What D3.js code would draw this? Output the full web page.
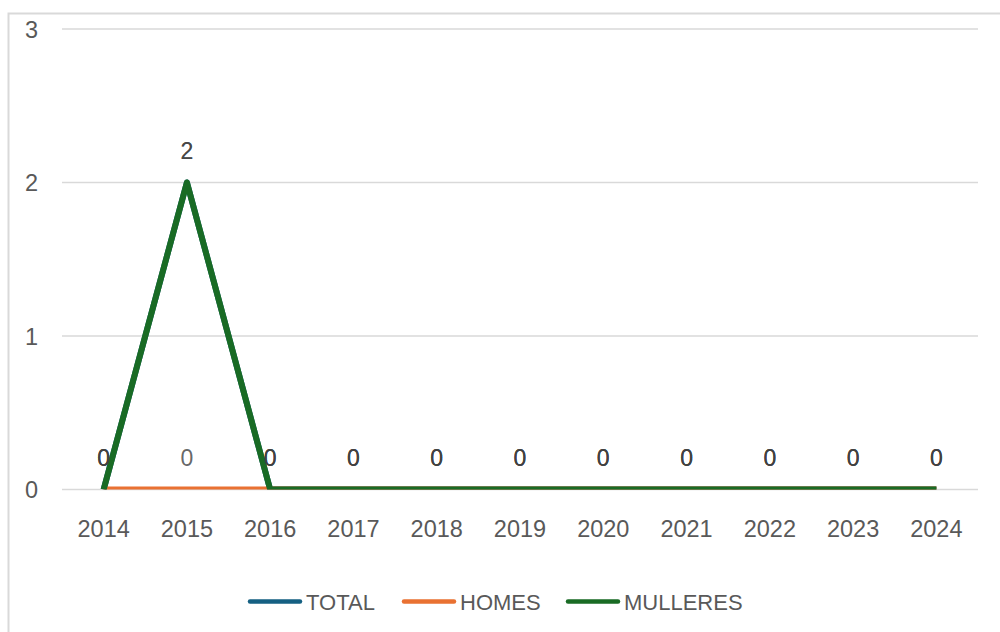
<!DOCTYPE html>
<html>
<head>
<meta charset="utf-8">
<script src="https://cdn.jsdelivr.net/npm/d3@7"></script>
<style>
  html, body { margin: 0; padding: 0; background: #fff; }
  svg { display: block; font-family: "Liberation Sans", Arial, sans-serif; }
</style>
</head>
<body>
<svg class="canvas" width="1000" height="632"></svg>
<script>
'use strict';

// Data
const years = ['2014', '2015', '2016', '2017', '2018', '2019', '2020', '2021', '2022', '2023', '2024'];
const total = [0, 2, 0, 0, 0, 0, 0, 0, 0, 0, 0];
const homes = [0, 0, 0, 0, 0, 0, 0, 0, 0, 0, 0];
const mulleres = [0, 2, 0, 0, 0, 0, 0, 0, 0, 0, 0];
const yTicks = [0, 1, 2, 3];

const series = [
  { name: 'TOTAL', values: total, color: '#156082' },
  { name: 'HOMES', values: homes, color: '#E97132' },
  { name: 'MULLERES', values: mulleres, color: '#196B24' },
];

const width = 1000,
  height = 632;
const plot = { left: 62, right: 978, top: 29, bottom: 489.5 };

const svg = d3.select('.canvas');

// chart area border (cropped on right / bottom)
svg.append('rect')
  .attr('x', 8.5).attr('y', 13.5)
  .attr('width', 1100).attr('height', 800)
  .attr('fill', '#fff')
  .attr('stroke', '#d9d9d9')
  .attr('stroke-width', 2);

const xScale = d3.scaleBand().domain(years).range([plot.left, plot.right]).padding(0);
const xc = d => xScale(d) + xScale.bandwidth() / 2;
const yScale = d3.scaleLinear().domain([0, 3]).range([plot.bottom, plot.top]);

// gridlines
svg.append('g')
  .selectAll('line')
  .data(yTicks)
  .join('line')
  .attr('x1', plot.left).attr('x2', plot.right)
  .attr('y1', d => yScale(d)).attr('y2', d => yScale(d))
  .attr('stroke', '#d9d9d9')
  .attr('stroke-width', 1.5);

// y axis labels
const yAxis = d3.axisLeft(yScale).tickValues(yTicks).tickSize(0).tickPadding(0).tickFormat(d3.format('d'));
const gy = svg.append('g').attr('transform', 'translate(38,0)').call(yAxis);
gy.select('.domain').remove();
gy.selectAll('text')
  .attr('font-size', 23.5)
  .attr('font-family', '"Liberation Sans", Arial, sans-serif')
  .attr('fill', '#595959')
  .attr('dy', '0.36em');

// x axis labels
const xAxis = d3.axisBottom(xScale).tickSize(0).tickPadding(0);
const gx = svg.append('g').attr('transform', `translate(0,${plot.bottom})`).call(xAxis);
gx.select('.domain').remove();
gx.selectAll('text')
  .attr('font-size', 23.5)
  .attr('font-family', '"Liberation Sans", Arial, sans-serif')
  .attr('fill', '#595959')
  .attr('y', 0)
  .attr('dy', 47);

// lines, clipped to the plot area like Excel does
svg.append('clipPath').attr('id', 'plotclip')
  .append('rect')
  .attr('x', 0).attr('y', plot.top - 20)
  .attr('width', width).attr('height', plot.bottom - plot.top + 20);

const line = d3.line()
  .x((d, i) => xc(years[i]))
  .y(d => yScale(d));

svg.append('g')
  .attr('clip-path', 'url(#plotclip)')
  .selectAll('path')
  .data(series)
  .join('path')
  .attr('d', s => line(s.values))
  .attr('fill', 'none')
  .attr('stroke', s => s.color)
  .attr('stroke-width', 6)
  .attr('stroke-linejoin', 'round');

// data labels
series.forEach(s => {
  svg.append('g')
    .selectAll('text')
    .data(s.values)
    .join('text')
    .attr('x', (d, i) => xc(years[i]))
    .attr('y', d => yScale(d) - 23.5)
    .attr('text-anchor', 'middle')
    .attr('font-size', 23)
    .attr('fill', '#404040')
    .attr('fill-opacity', 0.8)
    .text(d => d);
});

// legend
const legendPos = [250, 404, 568];
const legend = svg.append('g')
  .selectAll('g')
  .data(series)
  .join('g')
  .attr('transform', (s, i) => `translate(${legendPos[i]},601.5)`);
legend.append('line')
  .attr('x1', 0).attr('x2', 50)
  .attr('stroke', s => s.color)
  .attr('stroke-width', 4.5)
  .attr('stroke-linecap', 'round');
legend.append('text')
  .attr('x', 56)
  .attr('y', 8)
  .attr('font-size', 22)
  .attr('fill', '#595959')
  .text(s => s.name);
</script>
</body>
</html>
